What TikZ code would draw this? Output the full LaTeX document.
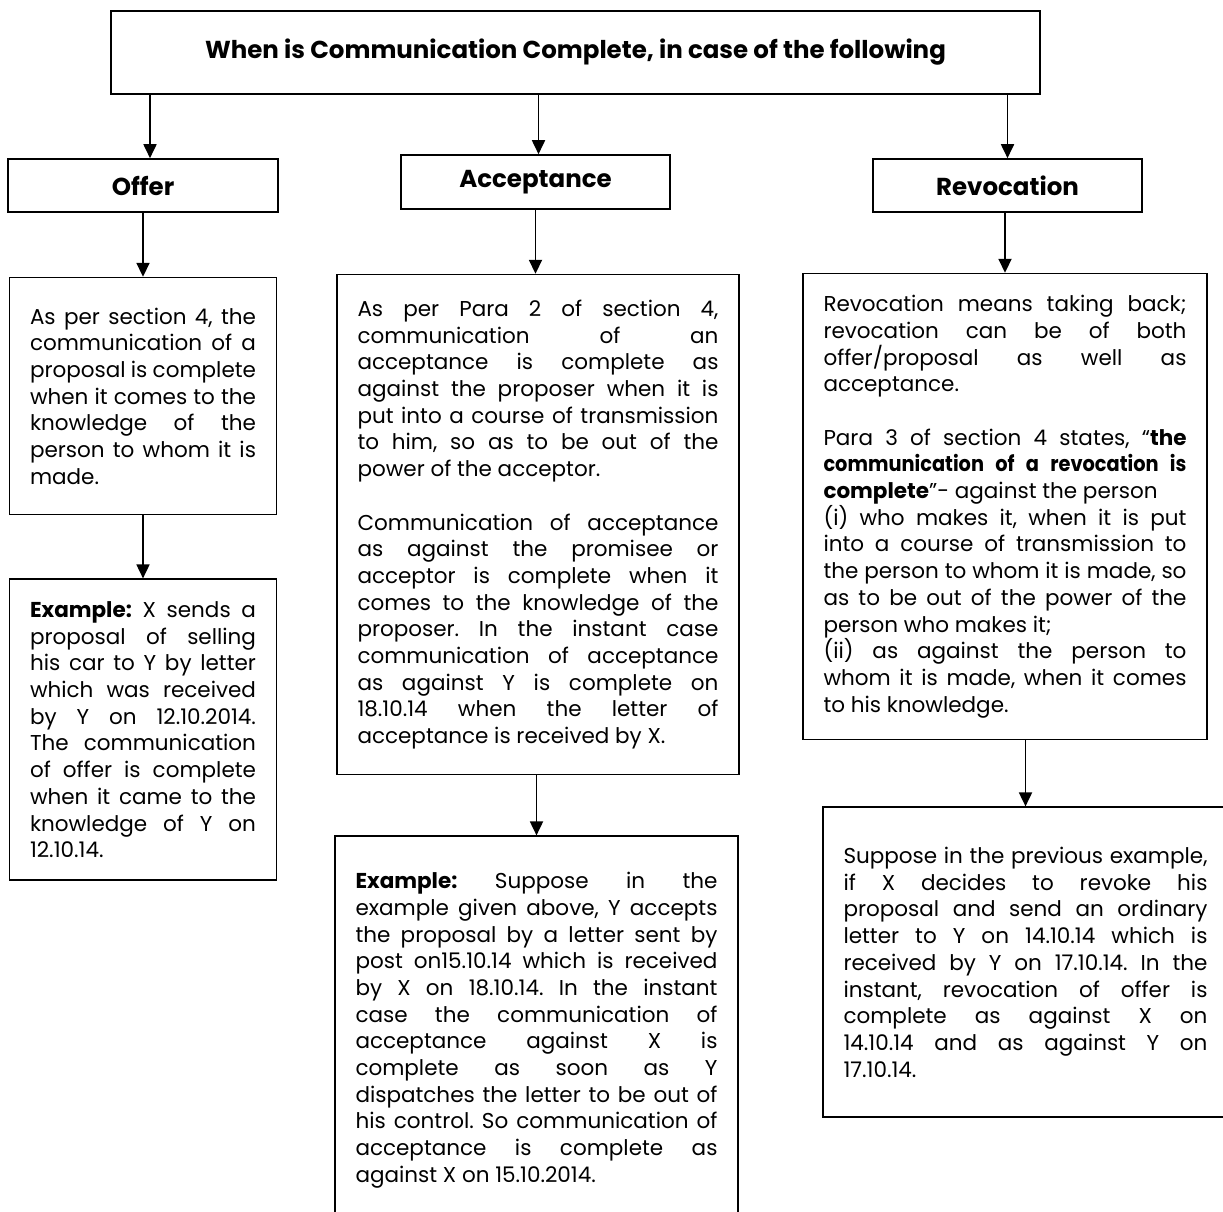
\documentclass[tikz,border=0pt]{standalone}
\usepackage{fontspec}
\setmainfont{Poppins}
\usetikzlibrary{positioning, arrows.meta}

\newcommand{\headfont}{\fontsize{24.5}{28}\selectfont\bfseries}
\newcommand{\bodyfont}{\fontsize{21.5}{26.7}\selectfont\frenchspacing\parindent=0pt\tolerance=9999\hyphenpenalty=10000\exhyphenpenalty=10000}
\newcommand{\narrowbf}[1]{{\bfseries\addfontfeatures{FakeStretch=0.9}#1}}

\tikzset{
    headbox/.style={draw, line width=1.6pt, minimum width=269pt, minimum height=53pt, font=\headfont},
    textbox/.style={draw, line width=1.6pt, align=justify, inner xsep=20.5pt, inner ysep=0pt, font=\bodyfont},
    arr/.style={line width=1.8pt, -{Triangle[length=14pt, width=13pt]}}
}

\begin{document}
\begin{tikzpicture}[x=1pt, y=1pt]
    \useasboundingbox (0,0) rectangle (1223,-1211);
    \clip (0,0) rectangle (1223,-1211);
    \node (title) [draw, line width=1.6pt, minimum width=929pt, minimum height=83pt, font=\headfont] at (575.5,-52.5) {When is Communication Complete, in case of the following};
    \node (offer) [headbox, minimum width=270pt] at (143,-185.5) {Offer};
    \node (accept) [headbox, minimum height=54pt] at (535.5,-182) {Acceptance};
    \node (revoc) [headbox] at (1007.5,-185.5) {Revocation};
    % Offer column
    \node (offertext) [textbox, text width=226pt, minimum height=237pt, below=64pt of offer] {As per section 4, the \linebreak communication of a \linebreak proposal is complete \linebreak when it comes to the \linebreak knowledge of the \linebreak person to whom it is \linebreak made.};
    \node (offerex) [textbox, text width=226pt, minimum height=301pt, below=63pt of offertext] {\textbf{Example:} X sends a \linebreak proposal of selling \linebreak his car to Y by letter \linebreak which was received \linebreak by Y on 12.10.2014. \linebreak The communication \linebreak of offer is complete \linebreak when it came to the \linebreak knowledge of Y on \linebreak 12.10.14.};
    % Acceptance column
    \node (accepttext) [textbox, text width=361pt, minimum height=500pt, below=64pt of accept, xshift=2.5pt] {As per Para 2 of section 4, \linebreak communication of an \linebreak acceptance is complete as \linebreak against the proposer when it is \linebreak put into a course of transmission \linebreak to him, so as to be out of the \linebreak power of the acceptor.\par\vspace{26.7pt}
    Communication of acceptance \linebreak as against the promisee or \linebreak acceptor is complete when it \linebreak comes to the knowledge of the \linebreak proposer. In the instant case \linebreak communication of acceptance \linebreak as against Y is complete on \linebreak 18.10.14 when the letter of \linebreak acceptance is received by X.};
    \node (acceptex) [textbox, text width=362pt, minimum height=388pt, below=60pt of accepttext, xshift=-1.5pt] {\textbf{Example:} Suppose in the \linebreak example given above, Y accepts \linebreak the proposal by a letter sent by \linebreak post on15.10.14 which is received \linebreak by X on 18.10.14. In the instant \linebreak case the communication of \linebreak acceptance against X is \linebreak complete as soon as Y \linebreak dispatches the letter to be out of \linebreak his control. So communication of \linebreak acceptance is complete as \linebreak against X on 15.10.2014.};
    % Revocation column
    \node (revoctext) [textbox, text width=363pt, minimum height=466pt, below=60pt of revoc, xshift=-2.5pt] {Revocation means taking back; \linebreak revocation can be of both \linebreak offer/proposal as well as \linebreak acceptance.\par\vspace{26.7pt}
    Para 3 of section 4 states, “\textbf{the} \linebreak \narrowbf{communication of a revocation is} \linebreak \textbf{complete}”- against the person\\ (i) who makes it, when it is put \linebreak into a course of transmission to \linebreak the person to whom it is made, so \linebreak as to be out of the power of the \linebreak person who makes it;\\ (ii) as against the person to \linebreak whom it is made, when it comes \linebreak to his knowledge.};
    \node (revocex) [textbox, text width=364pt, minimum height=310pt, below=66pt of revoctext, xshift=20.5pt] {Suppose in the previous example, \linebreak if X decides to revoke his \linebreak proposal and send an ordinary \linebreak letter to Y on 14.10.14 which is \linebreak received by Y on 17.10.14. In the \linebreak instant, revocation of offer is \linebreak complete as against X on \linebreak 14.10.14 and as against Y on \linebreak 17.10.14.};
    % Connectors
    \draw [arr] (title.south -| offer.north) ++(7,0) -- ([xshift=7pt]offer.north);
    \draw [arr] (title.south -| accept.north) ++(3,0) -- ([xshift=3pt]accept.north);
    \draw [arr] (title.south -| revoc.north) -- (revoc.north);
    \draw [arr] (offer) -- (offertext);
    \draw [arr] (offertext) -- (offerex);
    \draw [arr] (accept.south) -- (accept.south |- accepttext.north);
    \draw [arr] (accepttext.south -| acceptex.north) -- (acceptex.north);
    \draw [arr] (revoc.south -| revoctext.north) -- (revoctext.north);
    \draw [arr] (revoctext.south -| revocex.north) -- (revocex.north);
\end{tikzpicture}
\end{document}
